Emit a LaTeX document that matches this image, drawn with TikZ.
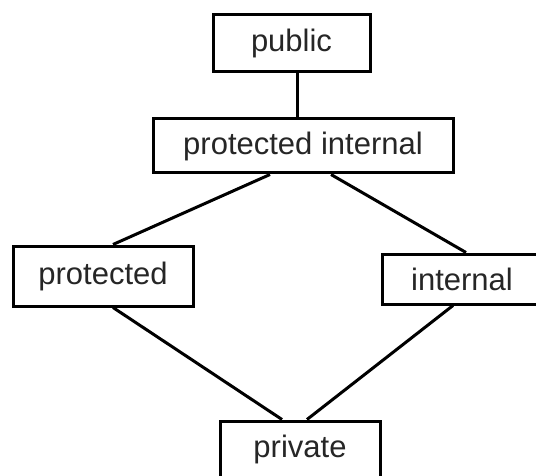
\documentclass[tikz,border=0pt]{standalone}
\usepackage{fontspec}
\setmainfont{Liberation Sans}
\usetikzlibrary{calc}
\begin{document}
\begin{tikzpicture}[x=1pt,y=-1pt,
  box/.style={draw=black,line width=3pt,rectangle,inner sep=0pt,
    font=\fontsize{31}{36}\selectfont,text=black!85},
  link/.style={draw=black,line width=3pt}]
\useasboundingbox[fill=white] (0,0) rectangle (536,476);
\node[box,minimum width=157pt,minimum height=57pt] (pub) at (291.5,43.5) {public};
\node[box,minimum width=300pt,minimum height=54pt] (pi) at (303,146) {protected internal};
\node[box,minimum width=180pt,minimum height=60pt] (prot) at (103,276) {protected};
\node[box,minimum width=160pt,minimum height=50pt] (int) at (462,279) {internal};
\node[box,minimum width=160pt,minimum height=57pt] (priv) at (300,449.5) {private};
\draw[link] ($(pub.south)+(5.5,0)$) -- ($(pi.north)+(-6,0)$);
\draw[link] ($(pi.south)+(-33,0)$) -- ($(prot.north)+(10,0)$);
\draw[link] ($(pi.south)+(28,0)$) -- ($(int.north)+(4,0)$);
\draw[link] ($(prot.south)+(10,0)$) -- ($(priv.north)+(-18,0)$);
\draw[link] ($(int.south)+(-9,0)$) -- ($(priv.north)+(7,0)$);
\end{tikzpicture}
\end{document}
